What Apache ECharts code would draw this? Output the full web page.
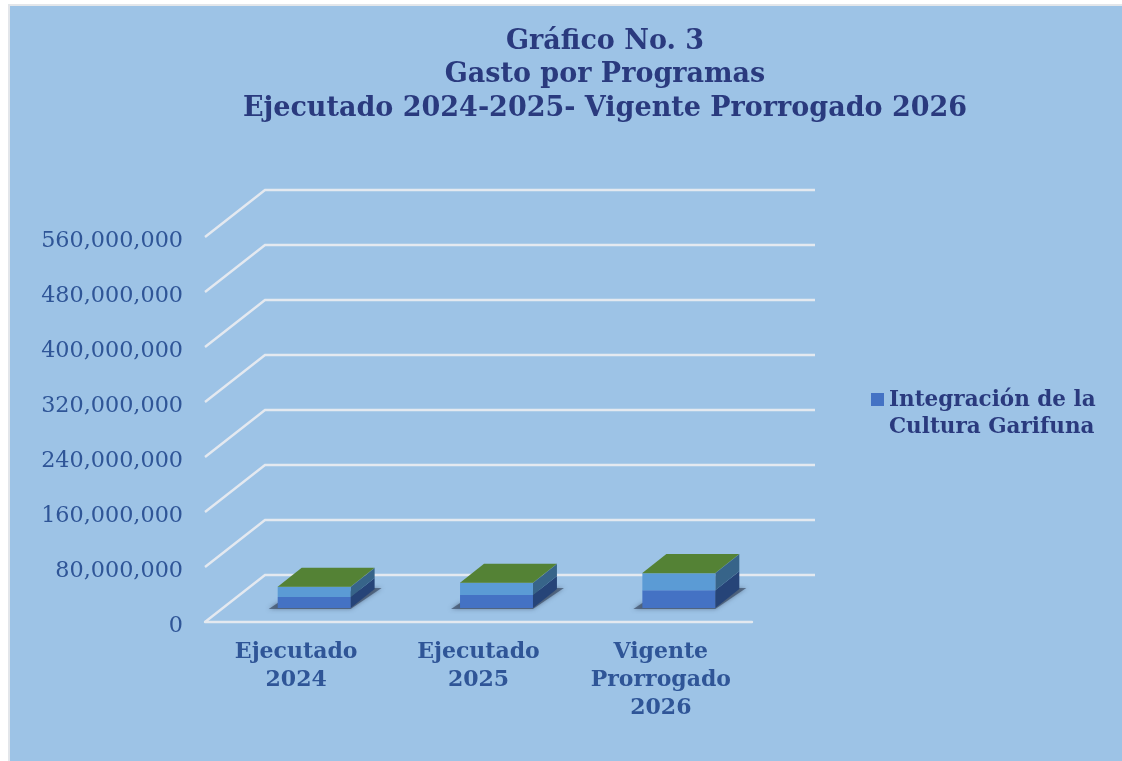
<!DOCTYPE html>
<html>
<head>
<meta charset="utf-8">
<title>Gasto por Programas</title>
<script src="https://cdn.jsdelivr.net/npm/echarts@6/dist/echarts.min.js"></script>
<style>
html,body{margin:0;padding:0;background:#fff;}
#chart{width:1122px;height:761px;}
</style>
</head>
<body>
<div id="chart"></div>
<script>
const categories=['Ejecutado\n2024','Ejecutado\n2025','Vigente\nProrrogado\n2026'];
const garifuna=[16000000,19000000,26000000];
const segundo=[14500000,17500000,24700000];
const tercero=[300000,300000,300000];
const legendName='Integración de la\nCultura Garifuna';
const yTicks=[0,80000000,160000000,240000000,320000000,400000000,480000000,560000000];

const serif='"DejaVu Serif","Liberation Serif",serif';
const navy='#2A3A7E';
const blue='#2F5597';
const gridColor='#E4E9F0';
// profundidad de las paredes y de las barras (px)
const wallDx=60, wallDy=-47;
const barDx=24, barDy=-19;
const floorDx=18, floorDy=-14;

function stack(list,upto){
    return list.map((v,i)=>{
        let base=0;
        for(let k=0;k<upto;k++){ base+=[garifuna,segundo,tercero][k][i]; }
        return [i,base,base+v];
    });
}

// lineas de las paredes: diagonal + horizontal del fondo
const renderWall=(params,api)=>{
    const y=api.coord([0,api.value(0)])[1];
    const cs=params.coordSys;
    return {
        type:'polyline',
        shape:{points:[[cs.x,y],[cs.x+wallDx,y+wallDy],[cs.x+cs.width+wallDx+3,y+wallDy]]},
        style:{stroke:gridColor,lineWidth:2.4,fill:null}
    };
};

const makeBar=(front,side,top,withShadow)=>(params,api)=>{
    const low=api.coord([api.value(0),api.value(1)]);
    const high=api.coord([api.value(0),api.value(2)]);
    const w=api.size([1,0])[0]*0.4;
    const x0=low[0]-w/2+floorDx, x1=x0+w;
    const y0=low[1]+floorDy, y1=high[1]+floorDy;
    const children=[];
    if(withShadow){
        children.push({
            type:'polygon',
            shape:{points:[[x0-9,y0+1],[x1,y0+1],[x1+31,y0-20],[x1+20,y0-20],[x0,y0-5]]},
            style:{fill:'rgba(55,70,95,0.65)',shadowBlur:4,shadowColor:'rgba(55,70,95,0.8)'}
        });
    }
    children.push({type:'polygon',shape:{points:[[x1,y0],[x1+barDx,y0+barDy],[x1+barDx,y1+barDy],[x1,y1]]},style:{fill:side}});
    children.push({type:'rect',shape:{x:x0,y:y1,width:w,height:y0-y1},style:{fill:front}});
    if(top){
        children.push({type:'polygon',shape:{points:[[x0,y1],[x1,y1],[x1+barDx,y1+barDy],[x0+barDx,y1+barDy]]},style:{fill:top}});
    }
    return {type:'group',children:children};
};

const chart=echarts.init(document.getElementById('chart'));
chart.setOption({
    animation:false,
    backgroundColor:'#fff',
    textStyle:{fontFamily:serif},
    graphic:[{
        type:'rect',z:-10,silent:true,
        shape:{x:9,y:5,width:1114,height:757},
        style:{fill:'#9DC3E6',stroke:'#E3E6EA',lineWidth:2}
    }],
    title:{
        text:'Gráfico No. 3\nGasto por Programas\nEjecutado 2024-2025- Vigente Prorrogado 2026',
        left:600,top:20,textAlign:'center',
        textStyle:{fontFamily:serif,fontWeight:'bold',fontSize:27,lineHeight:33.5,color:navy}
    },
    legend:{
        show:true,left:871,top:387,orient:'vertical',padding:0,
        data:[legendName],
        itemWidth:13,itemHeight:42,itemGap:0,
        icon:'path://M0,0H13V13H0Z M0,42L0,42',
        textStyle:{fontFamily:serif,fontWeight:'bold',fontSize:21.5,lineHeight:27,color:navy}
    },
    grid:{left:205,top:237,width:547,height:385,containLabel:false},
    xAxis:{
        type:'category',data:categories,
        axisTick:{show:false},
        axisLine:{lineStyle:{color:gridColor,width:2.4}},
        axisLabel:{margin:16,fontFamily:serif,fontWeight:'bold',fontSize:22,lineHeight:28,color:blue,interval:0}
    },
    yAxis:{
        type:'value',min:0,max:560000000,interval:80000000,
        axisLine:{show:false},axisTick:{show:false},splitLine:{show:false},
        axisLabel:{margin:22,fontFamily:serif,fontSize:22.3,color:blue,verticalAlign:'top',lineHeight:8,
            formatter:v=>v.toLocaleString('en-US')}
    },
    series:[
        {type:'custom',name:'paredes',data:yTicks.map(v=>[v]),renderItem:renderWall,encode:{y:0},clip:false,silent:true,z:1},
        {type:'custom',name:legendName,data:stack(garifuna,0),renderItem:makeBar('#4472C4','#264478',null,true),
            encode:{x:0,y:[1,2]},itemStyle:{color:'#4472C4'},clip:false,z:2},
        {type:'custom',name:'Segunda serie',data:stack(segundo,1),renderItem:makeBar('#5B9BD5','#376489',null,false),
            encode:{x:0,y:[1,2]},itemStyle:{color:'#5B9BD5'},clip:false,z:3},
        {type:'custom',name:'Tercera serie',data:stack(tercero,2),renderItem:makeBar('#548235','#376489','#548235',false),
            encode:{x:0,y:[1,2]},itemStyle:{color:'#548235'},clip:false,z:4}
    ]
});
</script>
</body>
</html>
